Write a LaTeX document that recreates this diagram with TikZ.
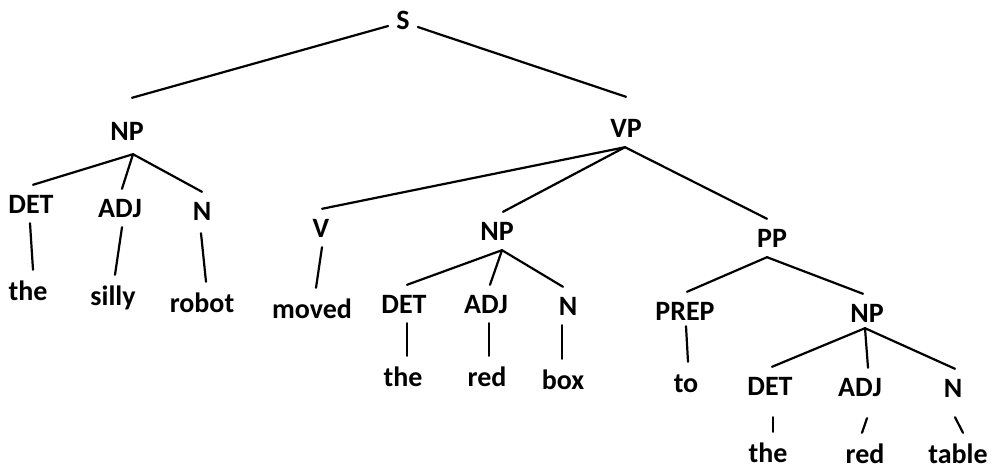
\documentclass[tikz,border=0pt]{standalone}
\usepackage{fontspec}
\setmainfont{Carlito}
\begin{document}
\begin{tikzpicture}[x=1pt,y=-1pt,
  every node/.style={font=\fontsize{28}{30}\selectfont\bfseries, inner xsep=1pt, anchor=base},
  cat/.style={text height=18pt, text depth=0pt, inner ysep=10pt},
  word/.style={text height=28pt, text depth=0pt, inner ysep=2pt},
  edge/.style={line width=2.2pt, line cap=round}]
\useasboundingbox (0,0) rectangle (992,468);
% level 0/1
\node[cat] (S) at (403,30) {S};
\node[cat] (NPa) at (127,140) {NP};
\node[cat] (VP) at (626,137) {VP};
% left NP
\node[cat] (DETa) at (31,213) {DET};
\node[cat] (ADJa) at (120,217) {ADJ};
\node[cat] (Na) at (202,220) {N};
\node[word] (thea) at (28,300) {the};
\node[word] (silly) at (113,305) {silly};
\node[word] (robot) at (202,312) {robot};
% VP children
\node[cat] (V) at (321,237) {V};
\node[cat] (NPb) at (497,240) {NP};
\node[cat] (PP) at (772,247) {PP};
\node[word] (moved) at (312,318) {moved};
% middle NP
\node[cat] (DETb) at (404,313) {DET};
\node[cat] (ADJb) at (486,313) {ADJ};
\node[cat] (Nb) at (568,315) {N};
\node[word] (theb) at (403,386) {the};
\node[word] (redb) at (487,386) {red};
\node[word] (box) at (563,389) {box};
% PP
\node[cat] (PREP) at (685,320) {PREP};
\node[cat] (NPc) at (867,322) {NP};
\node[word] (to) at (686,392) {to};
\node[cat] (DETc) at (770,395) {DET};
\node[cat] (ADJc) at (860,396) {ADJ};
\node[cat] (Nc) at (953,397) {N};
\node[word] (thec) at (768,462) {the};
\node[word] (redc) at (865,463) {red};
\node[word] (table) at (958,463) {table};
% connectors
\draw[edge] ([xshift=-7pt,yshift=-5pt]S.west) -- ([xshift=5pt,yshift=14pt]NPa.north);
\draw[edge] ([xshift=7pt,yshift=-6pt]S.east) -- ([yshift=12pt]VP.north);
\draw[edge] ([xshift=6pt,yshift=-4pt]NPa.south) -- ([xshift=2pt]DETa.north);
\draw[edge] ([xshift=6pt,yshift=-4pt]NPa.south) -- ([xshift=2pt]ADJa.north);
\draw[edge] ([xshift=6pt,yshift=-4pt]NPa.south) -- (Na.north);
\draw[edge] ([xshift=-1pt]DETa.south) -- ([xshift=5pt]thea.north);
\draw[edge] ([xshift=2pt]ADJa.south) -- ([xshift=2pt]silly.north);
\draw[edge] ([xshift=-1pt,yshift=-3pt]Na.south) -- ([xshift=4pt]robot.north);
\draw[edge] ([xshift=-1pt]VP.south) -- ([xshift=1pt]V.north);
\draw[edge] ([xshift=-1pt]VP.south) -- ([xshift=6pt]NPb.north);
\draw[edge] ([xshift=-1pt]VP.south) -- ([xshift=-5pt]PP.north);
\draw[edge] ([xshift=1pt]V.south) -- ([xshift=4pt]moved.north);
\draw[edge] ([xshift=5pt]NPb.south) -- ([xshift=3pt]DETb.north);
\draw[edge] ([xshift=5pt]NPb.south) -- ([xshift=4pt]ADJb.north);
\draw[edge] ([xshift=5pt]NPb.south) -- ([xshift=-5pt]Nb.north);
\draw[edge] ([xshift=3pt]DETb.south) -- ([xshift=4pt]theb.north);
\draw[edge] ([xshift=3pt]ADJb.south) -- ([xshift=2pt]redb.north);
\draw[edge] ([xshift=-6pt]Nb.south) -- ([xshift=-1pt]box.north);
\draw[edge] ([xshift=-5pt]PP.south) -- ([xshift=2pt]PREP.north);
\draw[edge] ([xshift=-5pt]PP.south) -- ([xshift=-4pt]NPc.north);
\draw[edge] ([xshift=1pt,yshift=4pt]PREP.south) -- ([xshift=2pt]to.north);
\draw[edge] ([xshift=-2pt,yshift=4pt]NPc.south) -- ([xshift=2pt]DETc.north);
\draw[edge] ([xshift=-2pt,yshift=4pt]NPc.south) -- ([xshift=8pt]ADJc.north);
\draw[edge] ([xshift=-2pt,yshift=4pt]NPc.south) -- ([xshift=2pt]Nc.north);
\draw[edge] ([xshift=3pt,yshift=-12pt]DETc.south) -- ([xshift=5pt]thec.north);
\draw[edge] ([xshift=7pt,yshift=-12pt]ADJc.south) -- ([xshift=-3pt]redc.north);
\draw[edge] ([xshift=2pt,yshift=-10pt]Nc.south) -- ([xshift=5pt]table.north);
\end{tikzpicture}
\end{document}
